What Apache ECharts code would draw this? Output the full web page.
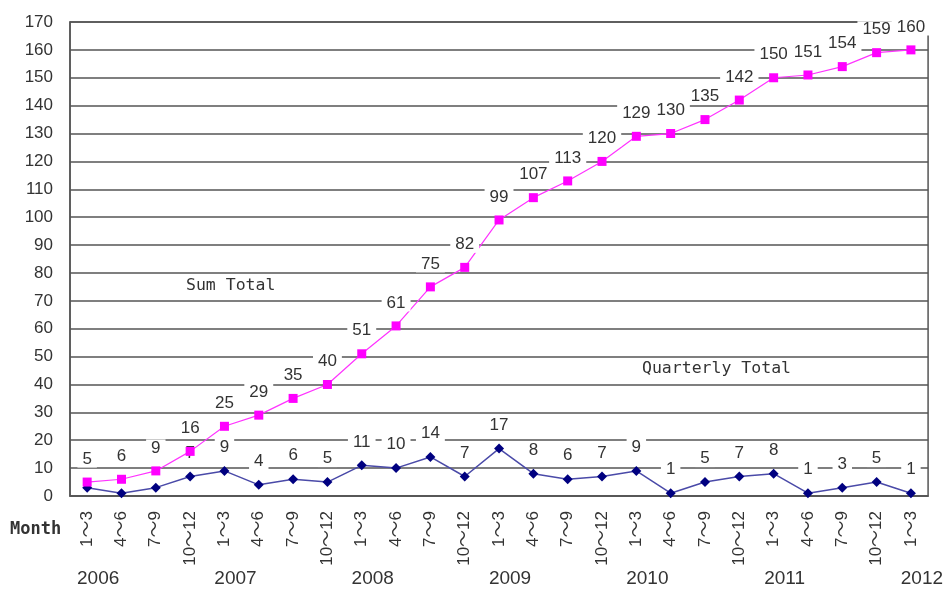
<!DOCTYPE html>
<html><head><meta charset="utf-8">
<script src="https://cdn.jsdelivr.net/npm/echarts@6/dist/echarts.min.js"></script>
<style>html,body{margin:0;padding:0;background:#fff}#c{width:946px;height:589px}</style>
</head><body><div id="c"></div>
<script>
const quarters = ['1～3','4～6','7～9','10～12','1～3','4～6','7～9','10～12','1～3','4～6','7～9','10～12','1～3','4～6','7～9','10～12','1～3','4～6','7～9','10～12','1～3','4～6','7～9','10～12','1～3'];
const years = ['2006','2007','2008','2009','2010','2011','2012'];
const sumTotal = [5,6,9,16,25,29,35,40,51,61,75,82,99,107,113,120,129,130,135,142,150,151,154,159,160];
const quarterlyTotal = [3,1,3,7,9,4,6,5,11,10,14,7,17,8,6,7,9,1,5,7,8,1,3,5,1];
const quarterlyHiddenLabels = [0,1,2];
const yTicks = {min:0, max:170, interval:10};

const FONT = "'Liberation Sans Narrow','Liberation Sans','Noto Sans CJK JP',sans-serif";
const MONO = "'DejaVu Sans Mono',monospace";
const yearData = quarters.map((q,i)=> i%4===0 ? years[i/4] : '');

const chart = echarts.init(document.getElementById('c'), null, {renderer:'canvas'});
const labelStyle = {show:true, position:'top', distance:10, fontFamily:FONT, fontSize:17, color:'#333',
  backgroundColor:'#fff', padding:[0,5,0,5]};
chart.setOption({
  animation:false,
  grid:{left:70, right:15, top:22, bottom:93, show:true, borderColor:'#555', borderWidth:1.5, backgroundColor:'#fff'},
  xAxis:[{
    type:'category', data:quarters, boundaryGap:true,
    axisLine:{show:true, lineStyle:{color:'#555', width:1.5}},
    axisTick:{show:false},
    axisLabel:{rotate:90, interval:0, margin:15, fontFamily:FONT, fontSize:17, color:'#333'}
  },{
    type:'category', data:yearData, position:'bottom', boundaryGap:true,
    axisLine:{show:false}, axisTick:{show:false},
    axisLabel:{interval:0, margin:73, fontFamily:FONT, fontSize:19, color:'#333', padding:[0,0,0,22]}
  }],
  yAxis:{
    type:'value', min:yTicks.min, max:yTicks.max, interval:yTicks.interval,
    axisLine:{show:true, lineStyle:{color:'#555', width:1.5}},
    axisTick:{show:false},
    splitLine:{show:true, lineStyle:{color:'#555', width:1.5}},
    axisLabel:{margin:17, fontFamily:FONT, fontSize:17, color:'#333'}
  },
  series:[{
    name:'Quarterly Total', type:'line', data:quarterlyTotal.map((v,i)=>({value:v, label:{show:quarterlyHiddenLabels.indexOf(i)<0}})),
    symbol:'diamond', symbolSize:10, itemStyle:{color:'#000080'},
    lineStyle:{color:'#4a4aa8', width:1.5}, z:3,
    label:labelStyle
  },{
    name:'Sum Total', type:'line', data:sumTotal,
    symbol:'rect', symbolSize:9, itemStyle:{color:'#ff00ff'},
    lineStyle:{color:'#ff33ff', width:1.2}, z:4,
    label:labelStyle
  }],
  graphic:[
    {type:'text', left:10, top:521, style:{text:'Month', font:"bold 17px "+MONO, fill:'#333'}},
    {type:'text', left:186, top:277, style:{text:'Sum Total', font:"16.5px "+MONO, fill:'#333'}},
    {type:'text', left:642, top:360, style:{text:'Quarterly Total', font:"16.5px "+MONO, fill:'#333'}}
  ]
});
</script></body></html>
